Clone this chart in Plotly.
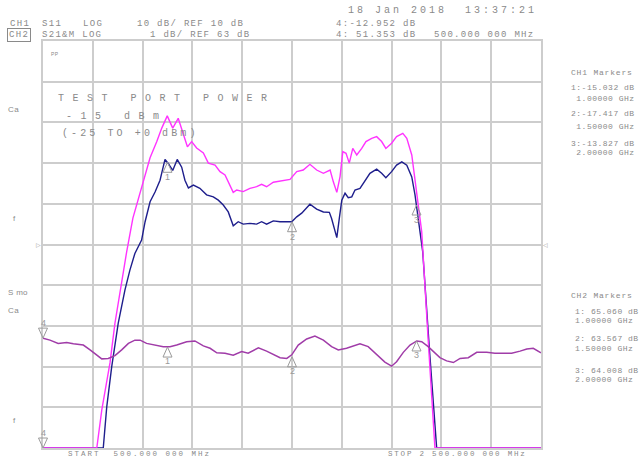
import plotly.graph_objects as go

# ---- sweep / display settings -------------------------------------------
F_START, F_STOP = 500, 2500          # MHz
CH1_REF, CH1_SCALE = 10, 10          # dB, dB/div  (reference on top line)
CH2_REF, CH2_SCALE = 63, 1           # dB, dB/div  (reference on centre line)
N_DIV = 10

# ---- CH1 traces (dB) ----------------------------------------------------
ch1_mem_freq = [500, 716, 736, 769, 789, 816, 836, 861, 896, 930, 957, 977, 999,
                1021, 1043, 1063, 1080, 1097, 1117, 1144, 1164, 1191, 1211, 1231,
                1244, 1264, 1278, 1304, 1331, 1358, 1378, 1398, 1425, 1452, 1492,
                1519, 1545, 1572, 1599, 1626, 1653, 1666, 1680, 1693, 1704, 1717,
                1730, 1744, 1760, 1780, 1797, 1820, 1840, 1860, 1877, 1900, 1920,
                1945, 1961, 1981, 1994, 2007, 2021, 2047, 2074, 2500]
ch1_mem_db = [-90, -90, -80.7, -69.1, -59.3, -48.7, -41.8, -33.5, -26.1, -18.7,
              -14.7, -11.4, -8.4, -11.4, -9.0, -12.6, -16.0, -14.7, -16.3, -17.5,
              -20.0, -20.5, -22.1, -22.9, -24.6, -27.2, -26.6, -27.0, -26.2, -25.8,
              -25.2, -25.8, -24.7, -24.4, -24.0, -22.1, -21.7, -20.3, -21.7, -22.5,
              -21.7, -24.6, -27.2, -23.3, -17.2, -17.6, -20.0, -16.4, -18.0, -16.4,
              -14.7, -13.9, -13.5, -14.7, -16.4, -15.1, -13.5, -12.7, -13.9, -18.0,
              -24.6, -30.3, -36.9, -63.5, -90, -90]

ch1_data_freq = [500, 742, 756, 776, 802, 829, 849, 869, 896, 910, 930, 950, 970,
                 990, 1003, 1021, 1039, 1057, 1070, 1084, 1104, 1130, 1157, 1184,
                 1204, 1224, 1244, 1264, 1284, 1304, 1331, 1358, 1378, 1398, 1425,
                 1452, 1485, 1499, 1519, 1539, 1572, 1599, 1626, 1650, 1659, 1670,
                 1680, 1690, 1700, 1713, 1726, 1740, 1753, 1773, 1793, 1813, 1840,
                 1860, 1877, 1900, 1920, 1941, 1961, 1981, 1994, 2007, 2025, 2052,
                 2081, 2500]
ch1_data_db = [-90, -90, -79.9, -70.0, -59.4, -51.2, -46.3, -42.2, -38.9, -34.4,
               -29.5, -27.1, -24.2, -19.1, -20.1, -21.8, -19.1, -21.0, -24.2, -26.1,
               -25.4, -26.2, -27.8, -28.3, -29.1, -30.3, -32.0, -35.4, -34.4, -35.0,
               -34.8, -35.0, -34.4, -35.0, -34.2, -34.4, -34.4, -34.4, -33.2, -32.3,
               -30.1, -31.3, -32.0, -32.1, -33.6, -36.0, -38.3, -33.6, -29.1, -27.4,
               -28.5, -28.3, -26.6, -26.2, -24.2, -22.5, -21.5, -22.5, -23.6, -22.1,
               -20.5, -19.7, -20.5, -23.4, -27.8, -33.6, -41.8, -65.9, -90, -90]

# ---- CH2 trace (dB) -----------------------------------------------------
ch2_freq = [500, 528, 561, 595, 622, 662, 689, 716, 736, 762, 789, 816, 843, 869,
            890, 916, 950, 983, 1010, 1037, 1077, 1110, 1144, 1171, 1198, 1231,
            1264, 1298, 1324, 1365, 1398, 1425, 1452, 1479, 1499, 1525, 1559, 1592,
            1626, 1659, 1686, 1719, 1746, 1773, 1806, 1840, 1873, 1900, 1920, 1947,
            1974, 2001, 2021, 2047, 2067, 2094, 2121, 2148, 2175, 2208, 2242, 2282,
            2315, 2349, 2382, 2416, 2443, 2469, 2500]
ch2_db = [60.70, 60.65, 60.57, 60.59, 60.56, 60.53, 60.41, 60.28, 60.19, 60.20,
          60.27, 60.41, 60.57, 60.65, 60.65, 60.57, 60.53, 60.49, 60.49, 60.53,
          60.61, 60.63, 60.51, 60.45, 60.34, 60.33, 60.28, 60.37, 60.33, 60.46,
          60.38, 60.30, 60.22, 60.20, 60.29, 60.53, 60.68, 60.75, 60.65, 60.49,
          60.41, 60.45, 60.51, 60.56, 60.49, 60.30, 60.11, 60.01, 60.12, 60.35,
          60.53, 60.63, 60.61, 60.49, 60.37, 60.22, 60.14, 60.10, 60.20, 60.22,
          60.35, 60.35, 60.33, 60.33, 60.33, 60.38, 60.43, 60.45, 60.34]

# ---- markers ------------------------------------------------------------
marker_ids = ["1", "2", "3"]
marker_freq = [1000, 1500, 2000]
ch1_marker_db = [-19.8, -34.4, -30.3]
ch2_marker_db = [60.48, 60.24, 60.63]
marker4_freq = 500
ch1_marker4_db = -90
ch2_marker4_db = 60.70

ch1_readout = ["1:-15.032 dB", " 1.00000 GHz", "2:-17.417 dB", " 1.50000 GHz",
               "3:-13.827 dB", " 2.00000 GHz"]
ch2_readout = ["1: 65.060 dB", "1.00000 GHz", "2: 63.567 dB", "1.50000 GHz",
               "3: 64.008 dB", "2.00000 GHz"]

# ---- page geometry ------------------------------------------------------
W, H = 640, 457
ML, MR, MT, MB = 43, 99, 41, 9
PW, PH = W - ML - MR, H - MT - MB

GRID = "#cdcdcd"
GRAY = "#8a8a8a"
MONO = "Liberation Mono"
SANS = "Liberation Sans"

PINK = "#ff33ff"
NAVY = "#1e1e8c"
PURPLE = "#a03ca8"
MARK = "#9a9a9a"

fig = go.Figure()

fig.add_trace(go.Scatter(x=ch2_freq, y=ch2_db, yaxis="y2", mode="lines",
                         line=dict(color=PURPLE, width=1.5), hoverinfo="skip"))
fig.add_trace(go.Scatter(x=ch1_data_freq, y=ch1_data_db, mode="lines",
                         line=dict(color=NAVY, width=1.4), hoverinfo="skip"))
fig.add_trace(go.Scatter(x=ch1_mem_freq, y=ch1_mem_db, mode="lines",
                         line=dict(color=PINK, width=1.4), hoverinfo="skip"))

shapes = []
annotations = []

TRI_UP = "M0,0 L-4.5,-10 L4.5,-10 Z"
TRI_DN = "M0,0 L-4.5,10 L4.5,10 Z"


def marker(xref, x, yref, y, path, label, yshift):
    shapes.append(dict(type="path", xref=xref, yref=yref, xsizemode="pixel",
                       ysizemode="pixel", xanchor=x, yanchor=y, path=path,
                       line=dict(color=MARK, width=1), fillcolor="rgba(0,0,0,0)"))
    ax_x = x if xref == "x" else F_START + x * (F_STOP - F_START)
    annotations.append(dict(xref="x", yref=yref, x=ax_x, y=y, text=label,
                            showarrow=False, yshift=yshift,
                            font=dict(family=SANS, size=9, color=MARK)))


for mid, f, v in zip(marker_ids, marker_freq, ch1_marker_db):
    marker("x", f, "y", v, TRI_UP, mid, -15)
for mid, f, v in zip(marker_ids, marker_freq, ch2_marker_db):
    marker("x", f, "y2", v, TRI_UP, mid, -14)

m4_dom = (marker4_freq - F_START) / (F_STOP - F_START)
marker("x domain", m4_dom, "y", ch1_marker4_db, TRI_DN, "4", 15)
marker("x domain", m4_dom, "y2", ch2_marker4_db, TRI_DN, "4", 15)


def text(px, py, s, size=9, ls=1.3, family=MONO, color=GRAY, **kw):
    annotations.append(dict(
        xref="paper", yref="paper", x=(px - ML) / PW, y=(H - MB - py) / PH,
        text=f'<span style="letter-spacing:{ls}px">{s}</span>',
        showarrow=False, xanchor="left", yanchor="middle",
        font=dict(family=family, size=size, color=color), **kw))


# header
text(346, 11, "18 Jan 2018  13:37:21", size=10, ls=3)
text(8, 24, "CH1")
text(40, 24, "S11")
text(81, 24, "LOG")
text(135, 24, "10 dB/ REF 10 dB")
text(334, 24, "4:-12.952 dB")
text(7, 35, "CH2", bordercolor=GRAY, borderwidth=1, borderpad=1)
text(40, 35, "S21&amp;M LOG")
text(148, 35, "1 dB/ REF 63 dB")
text(334, 35, "4: 51.353 dB")
text(432, 35, "500.000 000 MHz")

# stimulus text in the graticule
text(56, 99, "TEST PORT POWER", size=10, ls=8.5)
text(64, 116, "-15 dBm", size=10, ls=8.5)
text(60, 133, "(-25 TO +0 dBm)", size=10, ls=3.1)
text(49, 54, "PP", size=5, ls=0.5, family=SANS)

# softkey stubs on the left
text(6, 109, "Ca", size=8, ls=0.5, family=SANS)
text(11, 218, "f", size=8, ls=0.5, family=SANS)
text(6, 292, "S mo", size=8, ls=0.3, family=SANS)
text(6, 310, "Ca", size=8, ls=0.5, family=SANS)
text(11, 420, "f", size=8, ls=0.5, family=SANS)

# reference position indicators
annotations.append(dict(xref="paper", yref="y2", x=0, y=CH2_REF, text="▷",
                        showarrow=False, xanchor="right", yanchor="middle",
                        font=dict(family="DejaVu Sans", size=6, color=MARK)))
annotations.append(dict(xref="paper", yref="y2", x=1, y=CH2_REF, text="◁",
                        showarrow=False, xanchor="left", yanchor="middle",
                        font=dict(family="DejaVu Sans", size=6, color=MARK)))

# marker readouts
text(569, 72, "CH1 Markers", size=8, ls=0.8)
for s, py in zip(ch1_readout, [87, 98, 113, 127, 143, 153]):
    text(569, py, s.replace(" ", "&nbsp;"), size=8, ls=0.5)
text(569, 295, "CH2 Markers", size=8, ls=0.8)
for s, py in zip(ch2_readout, [311, 321, 338, 348, 370, 379]):
    text(573, py, s, size=8, ls=0.5)

# sweep limits
text(67, 453.5, f"START  {F_START:.3f} 000 MHz".replace("  ", "&nbsp; "),
     size=7.5, ls=2.0, borderpad=0)
text(387, 453.5, "STOP 2 500.000 000 MHz", size=7.5, ls=1.8, borderpad=0)

axis_common = dict(showticklabels=False, zeroline=False, ticks="")

fig.update_layout(
    width=W, height=H,
    margin=dict(l=ML, r=MR, t=MT, b=MB, pad=0),
    paper_bgcolor="white", plot_bgcolor="white",
    showlegend=False,
    xaxis=dict(range=[F_START, F_STOP], dtick=(F_STOP - F_START) / N_DIV,
               tick0=F_START, showgrid=True, gridcolor=GRID, gridwidth=1.5,
               showline=True, linecolor=GRID, linewidth=1.5, mirror=True,
               **axis_common),
    yaxis=dict(range=[CH1_REF - N_DIV * CH1_SCALE, CH1_REF], dtick=CH1_SCALE,
               tick0=CH1_REF, showgrid=True, gridcolor=GRID, gridwidth=1.5,
               showline=True, linecolor=GRID, linewidth=1.5, mirror=True,
               **axis_common),
    yaxis2=dict(range=[CH2_REF - N_DIV / 2 * CH2_SCALE, CH2_REF + N_DIV / 2 * CH2_SCALE],
                overlaying="y", showgrid=False, showline=False, **axis_common),
    shapes=shapes,
    annotations=annotations,
)

fig.write_html("out.html")
